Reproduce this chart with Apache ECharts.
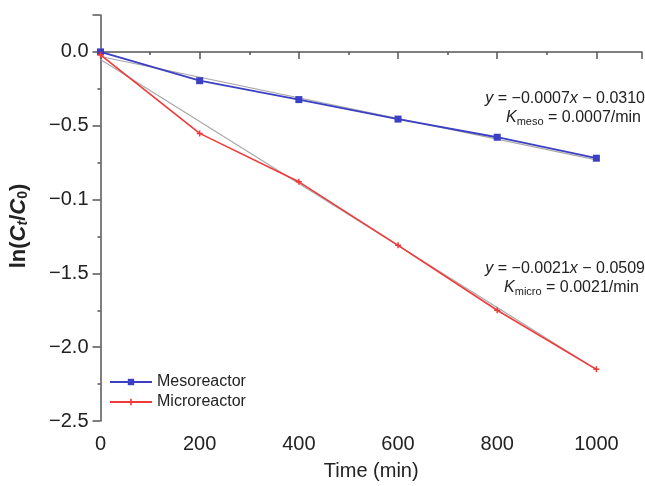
<!DOCTYPE html>
<html>
<head>
<meta charset="utf-8">
<script src="https://cdn.jsdelivr.net/npm/echarts@6/dist/echarts.min.js"></script>
<style>
  html, body { margin: 0; padding: 0; background: #fff; }
  #chart { width: 645px; height: 486px; }
</style>
</head>
<body>
<div id="chart"></div>
<script>
// data
const times = [0, 200, 400, 600, 800, 1000];
const mesoValues = [0, -0.195, -0.323, -0.455, -0.578, -0.72];
const microValues = [-0.02, -0.552, -0.88, -1.31, -1.75, -2.15];
// fitted lines (end points at t = 0 and t = 1000)
const fitTimes = [0, 1000];
const mesoFit = [-0.031, -0.731];
const microFit = [-0.0509, -2.1509];
// y tick labels as printed (the figure prints -0.1 for -1.0)
const yTickLabels = { '0': '0.0', '-0.5': '\u22120.5', '-1': '\u22120.1', '-1.5': '\u22121.5', '-2': '\u22122.0', '-2.5': '\u22122.5' };

const pairs = (xs, ys) => xs.map((x, i) => [x, ys[i]]);

const axisGrey = '#555';
const blue = '#3b3fc4';
const red = '#f03a3a';
const plusPath = 'path://M3,0h2v3h3v2h-3v3h-2v-3h-3v-2h3z';

const chart = echarts.init(document.getElementById('chart'));

const option = {
  animation: false,
  textStyle: { fontFamily: 'Liberation Sans, Arial, sans-serif' },
  grid: { left: 100, right: 0, top: 15, bottom: 62, containLabel: false },
  xAxis: {
    type: 'value',
    min: 0,
    max: 1092,
    interval: 200,
    name: 'Time (min)',
    nameLocation: 'middle',
    nameGap: 40,
    nameTextStyle: { fontSize: 20, color: '#222' },
    axisLine: { lineStyle: { color: axisGrey, width: 1.5 } },
    axisTick: { length: 7, lineStyle: { color: axisGrey, width: 1.5 } },
    minorTick: { show: true, splitNumber: 2, length: 3, lineStyle: { color: axisGrey, width: 1.5 } },
    axisLabel: {
      fontSize: 20, color: '#222', margin: 13,
      formatter: v => (v % 200 === 0 && v <= 1000 ? String(v) : '')
    },
    splitLine: { show: false }
  },
  yAxis: {
    type: 'value',
    min: -2.5,
    max: 0.25,
    interval: 0.5,
    name: '{t|ln(}{i|C}{s|t}{t|/}{i|C}{n|0}{t|)}',
    nameLocation: 'middle',
    nameGap: 70,
    nameRotate: 90,
    nameTextStyle: {
      color: '#222',
      padding: [0, 16, 0, 0],
      rich: {
        t: { fontSize: 22, fontWeight: 'bold', color: '#222' },
        i: { fontSize: 22, fontWeight: 'bold', fontStyle: 'italic', color: '#222' },
        s: { fontSize: 14, fontWeight: 'bold', fontStyle: 'italic', color: '#222', padding: [9, 0, 0, 0] },
        n: { fontSize: 14, fontWeight: 'bold', color: '#222', padding: [9, 0, 0, 0] }
      }
    },
    axisLine: { lineStyle: { color: axisGrey, width: 1.5 } },
    axisTick: { length: 8, lineStyle: { color: axisGrey, width: 1.5 } },
    minorTick: { show: true, splitNumber: 2, length: 3, lineStyle: { color: axisGrey, width: 1.5 } },
    axisLabel: {
      fontSize: 20, color: '#222', margin: 12,
      formatter: v => {
        const k = String(Math.round(v * 10) / 10);
        return yTickLabels[k] !== undefined ? yTickLabels[k] : '';
      }
    },
    splitLine: { show: false }
  },
  legend: {
    left: 104,
    top: 369,
    orient: 'vertical',
    itemWidth: 42,
    itemHeight: 8,
    itemGap: 4,
    textStyle: { fontSize: 16, color: '#222' },
    data: ['Mesoreactor', 'Microreactor']
  },
  series: [
    {
      name: 'meso fit', type: 'line', data: pairs(fitTimes, mesoFit),
      symbol: 'none', lineStyle: { color: '#a8a8a8', width: 1.2 }, silent: true
    },
    {
      name: 'micro fit', type: 'line', data: pairs(fitTimes, microFit),
      symbol: 'none', lineStyle: { color: '#a8a8a8', width: 1.2 }, silent: true
    },
    {
      name: 'Mesoreactor', type: 'line', data: pairs(times, mesoValues),
      symbol: 'rect', symbolSize: 7,
      itemStyle: { color: blue }, lineStyle: { color: blue, width: 1.8 }
    },
    {
      name: 'Microreactor', type: 'line', data: pairs(times, microValues),
      symbol: plusPath, symbolSize: 6,
      itemStyle: { color: red }, lineStyle: { color: red, width: 1.6 }
    }
  ],
  graphic: [
    {
      type: 'text', right: 0, top: 91,
      style: {
        text: '{i|y} = \u22120.0007{i|x} \u2212 0.0310',
        font: '16px Liberation Sans', fill: '#222', align: 'right',
        rich: { i: { fontStyle: 'italic', fontSize: 16 } }
      }
    },
    {
      type: 'text', right: 4, top: 110,
      style: {
        text: '{i|K}{s|meso} = 0.0007/min',
        font: '16px Liberation Sans', fill: '#222', align: 'right',
        rich: { i: { fontStyle: 'italic', fontSize: 16 }, s: { fontSize: 11, padding: [7, 0, 0, 0] } }
      }
    },
    {
      type: 'text', right: 0, top: 261,
      style: {
        text: '{i|y} = \u22120.0021{i|x} \u2212 0.0509',
        font: '16px Liberation Sans', fill: '#222', align: 'right',
        rich: { i: { fontStyle: 'italic', fontSize: 16 } }
      }
    },
    {
      type: 'text', right: 6, top: 280,
      style: {
        text: '{i|K}{s|micro} = 0.0021/min',
        font: '16px Liberation Sans', fill: '#222', align: 'right',
        rich: { i: { fontStyle: 'italic', fontSize: 16 }, s: { fontSize: 11, padding: [7, 0, 0, 0] } }
      }
    }
  ]
};

chart.setOption(option);
</script>
</body>
</html>
